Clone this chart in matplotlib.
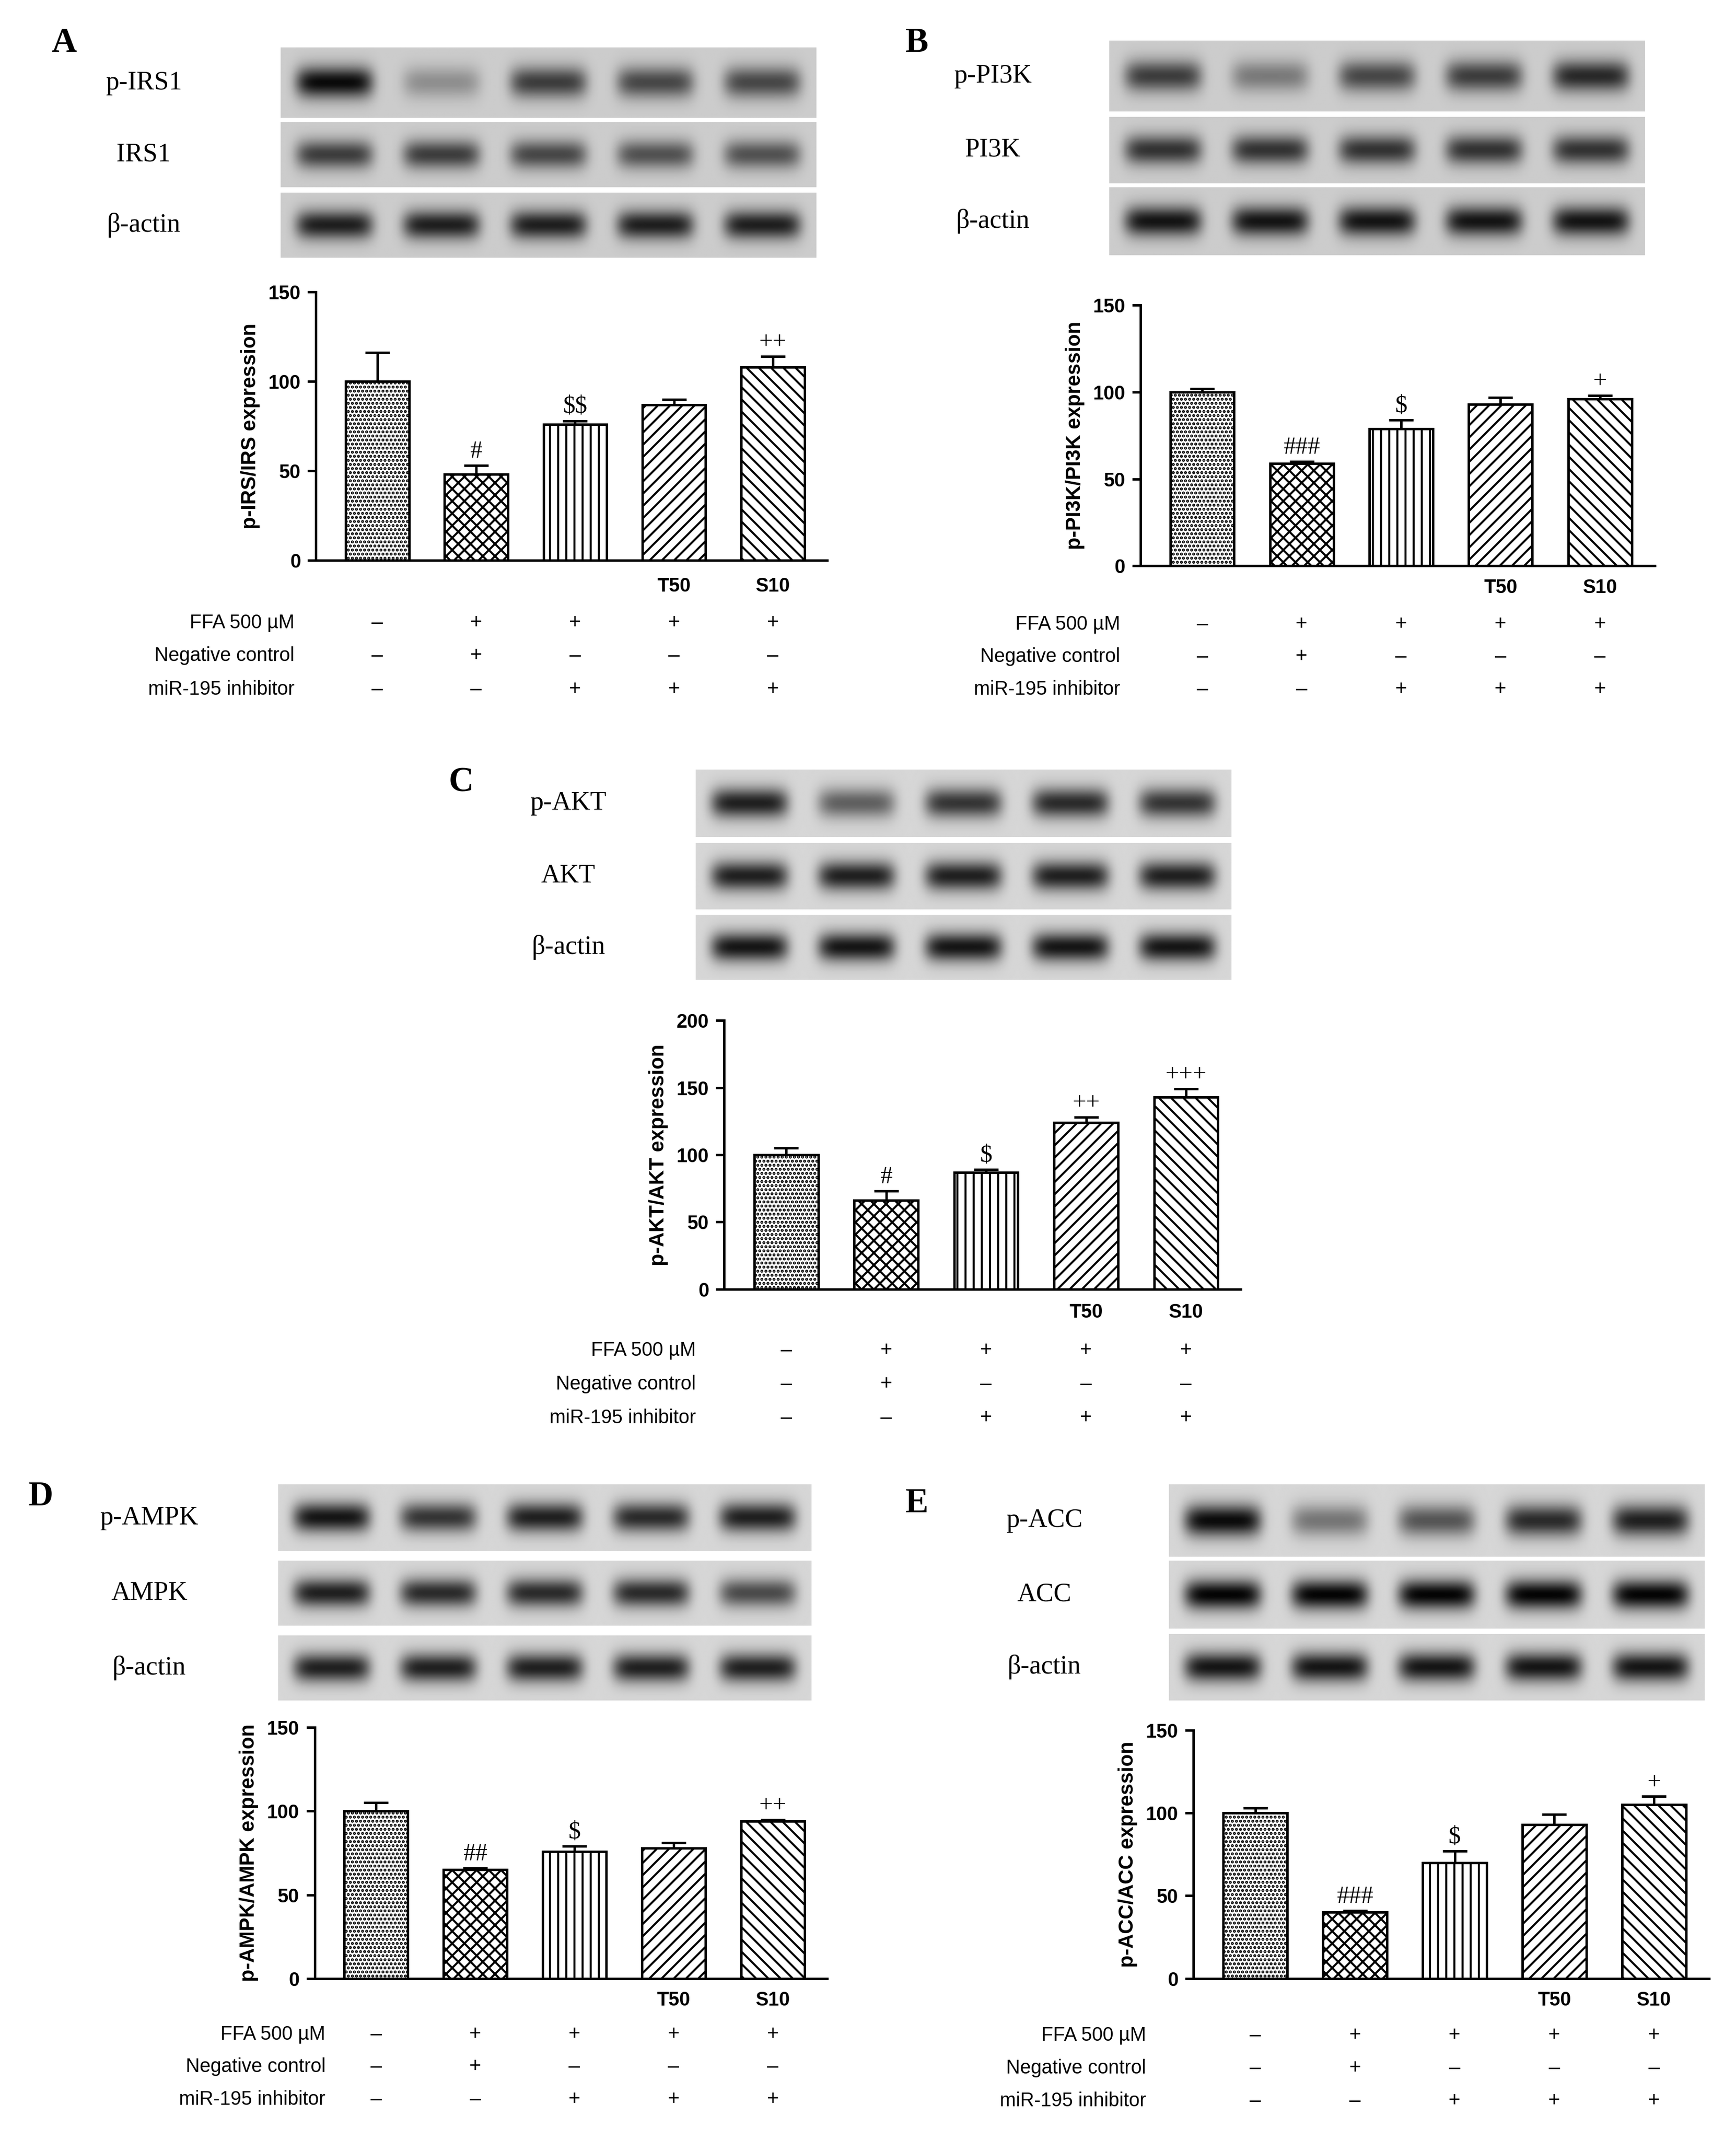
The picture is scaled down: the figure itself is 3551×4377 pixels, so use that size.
import numpy as np
import matplotlib
matplotlib.use("Agg")
import matplotlib.pyplot as plt
from matplotlib.transforms import blended_transform_factory
plt.rcParams['text.parse_math'] = False
plt.rcParams['font.family'] = ['Liberation Sans', 'DejaVu Sans']

# ---------------- data ----------------
lanes = 5
hatches = ['......', 'xxxx', '|||', '////', '\\\\\\\\']
group_labels = ['', '', '', 'T50', 'S10']
row_names = ['FFA 500 \u00b5M', 'Negative control', 'miR-195 inhibitor']
row_signs = [['\u2013', '+', '+', '+', '+'],
             ['\u2013', '+', '\u2013', '\u2013', '\u2013'],
             ['\u2013', '\u2013', '+', '+', '+']]

A_vals = [100, 48, 76, 87, 108]; A_err = [16, 5, 2, 3, 6]; A_sig = ['', '#', '$$', '', '++']
B_vals = [100, 59, 79, 93, 96]; B_err = [2, 1, 5, 4, 2]; B_sig = ['', '###', '$', '', '+']
C_vals = [100, 66, 87, 124, 143]; C_err = [5, 7, 2, 4, 6]; C_sig = ['', '#', '$', '++', '+++']
D_vals = [100, 65, 76, 78, 94]; D_err = [5, 1, 3, 3, 1]; D_sig = ['', '##', '$', '', '++']
E_vals = [100, 40, 70, 93, 105]; E_err = [3, 1, 7, 6, 5]; E_sig = ['', '###', '$', '', '+']

A_blot = {'p-IRS1': [0.95, 0.3, 0.7, 0.65, 0.65], 'IRS1': [0.7, 0.7, 0.65, 0.6, 0.6], '\u03b2-actin': [0.85] * 5}
B_blot = {'p-PI3K': [0.7, 0.4, 0.65, 0.7, 0.8], 'PI3K': [0.75] * 5, '\u03b2-actin': [0.9] * 5}
C_blot = {'p-AKT': [0.85, 0.55, 0.75, 0.8, 0.75], 'AKT': [0.85] * 5, '\u03b2-actin': [0.9] * 5}
D_blot = {'p-AMPK': [0.9, 0.75, 0.85, 0.8, 0.85], 'AMPK': [0.85, 0.8, 0.8, 0.8, 0.65], '\u03b2-actin': [0.85] * 5}
E_blot = {'p-ACC': [0.95, 0.45, 0.6, 0.8, 0.85], 'ACC': [0.98] * 5, '\u03b2-actin': [0.9] * 5}

# ---------------- layout helpers ----------------
W, H = 1280.0, 1577.0
fig = plt.figure(figsize=(3551 / 300, 4377 / 300), dpi=300)

def rect(x0, y0, x1, y1):
    return [x0 / W, 1 - y1 / H, (x1 - x0) / W, (y1 - y0) / H]

def band_image(intens, bg):
    nx, ny = 500, 60
    x = np.linspace(0, lanes, nx)
    y = np.linspace(-1, 1, ny)
    X, Y = np.meshgrid(x, y)
    img = np.full((ny, nx), bg)
    for i, v in enumerate(intens):
        gx = np.exp(-((X - (i + 0.5)) / 0.36) ** 6)
        gy = np.exp(-(Y / 0.45) ** 2)
        img -= v * gx * gy * bg
    return np.clip(img, 0, 1)

def blot(rows_y, x0, x1, lab_x, data, bg):
    for (y0, y1), (name, intens) in zip(rows_y, data.items()):
        ax = fig.add_axes(rect(x0, y0, x1, y1))
        ax.imshow(band_image(intens, bg), cmap='gray', vmin=0, vmax=1, aspect='auto',
                  extent=[0, lanes, -1, 1])
        ax.set_axis_off()
        fig.text(lab_x / W, 1 - ((y0 + y1) / 2) / H, name, family='Liberation Serif',
                 fontsize=13, ha='center', va='center')

def chart(ax_rect, ymax, ystep, vals, err, sig, ylabel, tlab_y, rows_y, rowlab_x):
    ax = fig.add_axes(rect(*ax_rect))
    xs = np.arange(lanes)
    for i in range(lanes):
        ax.bar(xs[i], vals[i], width=0.64, color='white', edgecolor='black',
               hatch=hatches[i], linewidth=1.2, zorder=2)
        ax.errorbar(xs[i], vals[i], yerr=[[0], [err[i]]], color='black', capsize=6,
                    elinewidth=1.2, capthick=1.2, zorder=3)
        if sig[i]:
            ax.text(xs[i], vals[i] + err[i] + ymax * 0.01, sig[i], ha='center', va='bottom',
                    family='Liberation Serif', fontsize=12)
    ax.set_xlim(-0.62, 4.55)
    ax.set_ylim(0, ymax)
    ax.set_yticks(np.arange(0, ymax + 1, ystep))
    ax.set_xticks([])
    for s in ['top', 'right']:
        ax.spines[s].set_visible(False)
    for s in ['left', 'bottom']:
        ax.spines[s].set_linewidth(1.2)
    ax.tick_params(axis='y', labelsize=9.5, width=1.2, length=4)
    for t in ax.get_yticklabels():
        t.set_fontweight('bold')
    ax.set_ylabel(ylabel, fontsize=10, fontweight='bold')
    tr = blended_transform_factory(ax.transData, fig.transFigure)
    for i in range(lanes):
        if group_labels[i]:
            ax.text(xs[i], 1 - tlab_y / H, group_labels[i], transform=tr, ha='center',
                    va='center', fontsize=9.5, fontweight='bold')
    for r in range(3):
        fy = 1 - rows_y[r] / H
        fig.text(rowlab_x / W, fy, row_names[r], ha='right', va='center', fontsize=9.5)
        for i in range(lanes):
            ax.text(xs[i], fy, row_signs[r][i], transform=tr, ha='center', va='center',
                    fontsize=10)
    return ax

def letter(x, y, s):
    fig.text(x / W, 1 - y / H, s, family='Liberation Serif', fontsize=17,
             fontweight='bold', ha='center', va='center')

letter(47, 32, 'A')
blot([(35, 87), (90, 138), (142, 190)], 207, 602, 106, A_blot, 0.8)
chart((233, 215, 610, 413), 150, 50, A_vals, A_err, A_sig, 'p-IRS/IRS expression',
      432, [459, 483, 508], 217)
letter(676, 32, 'B')
blot([(30, 82), (86, 135), (138, 188)], 818, 1213, 732, B_blot, 0.8)
chart((841, 225, 1220, 417), 150, 50, B_vals, B_err, B_sig, 'p-PI3K/PI3K expression',
      433, [460, 484, 508], 826)
letter(340, 577, 'C')
blot([(567, 617), (621, 670), (674, 722)], 513, 908, 419, C_blot, 0.84)
chart((534, 752, 915, 950), 200, 50, C_vals, C_err, C_sig, 'p-AKT/AKT expression',
      967, [995, 1020, 1045], 513)
letter(30, 1103, 'D')
blot([(1094, 1143), (1150, 1198), (1205, 1253)], 205, 598, 110, D_blot, 0.84)
chart((232, 1273, 610, 1458), 150, 50, D_vals, D_err, D_sig, 'p-AMPK/AMPK expression',
      1474, [1499, 1523, 1547], 240)
letter(676, 1108, 'E')
blot([(1094, 1147), (1150, 1200), (1204, 1253)], 862, 1257, 770, E_blot, 0.84)
chart((880, 1275, 1260, 1458), 150, 50, E_vals, E_err, E_sig, 'p-ACC/ACC expression',
      1474, [1500, 1524, 1548], 845)

fig.savefig('out.png', dpi=300, facecolor='white')
